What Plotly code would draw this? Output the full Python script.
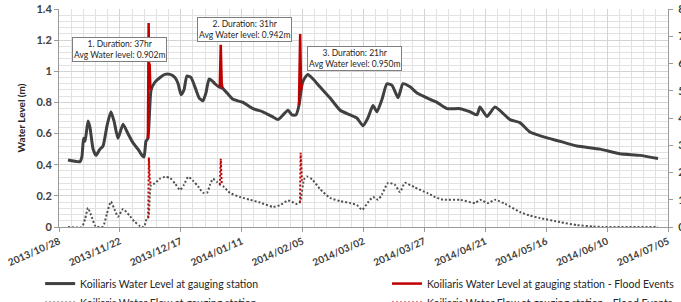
import pandas as pd
import plotly.graph_objects as go

START = pd.Timestamp("2013-10-28")

# Water level (m), days since 2013-10-28
level_days = [3.7, 8.6, 9.4, 10.1, 10.7, 11.9, 12.7, 14.0, 15.2, 16.8, 18.1, 19.7, 21.3, 22.6, 24.2,
              26.3, 28.3, 30.4, 32.4, 34.1, 34.9, 35.7, 36.5, 37.8, 39.4, 41.5, 43.5, 45.6, 47.6,
              48.9, 50.1, 51.3, 52.5, 54.2, 55.8, 57.5, 59.1, 60.3, 61.6, 62.8, 64.0, 65.7, 67.3,
              69.0, 71.4, 75.5, 79.6, 83.7, 87.4, 89.9, 92.0, 94.0, 95.6, 97.3, 98.5, 99.8, 101.0,
              102.2, 104.3, 107.1, 111.2, 115.4, 119.5, 122.3, 124.8, 126.8, 128.9, 130.5, 132.6,
              134.6, 136.7, 139.2, 141.2, 144.1, 147.0, 152.3, 155.2, 159.3, 164.6, 168.7, 171.6,
              172.8, 175.7, 179.0, 185.1, 189.2, 193.3, 198.7, 205.7, 212.6, 222.1, 230.3, 238.5, 245.9]
level_vals = [0.43, 0.42, 0.45, 0.57, 0.55, 0.68, 0.64, 0.50, 0.46, 0.50, 0.52, 0.65, 0.74, 0.68, 0.57,
              0.66, 0.60, 0.54, 0.50, 0.46, 0.45, 0.55, 0.57, 0.88, 0.93, 0.96, 0.98, 0.98, 0.96,
              0.92, 0.85, 0.88, 0.97, 0.96, 0.90, 0.83, 0.81, 0.86, 0.95, 0.94, 0.92, 0.90, 0.89,
              0.86, 0.82, 0.80, 0.76, 0.74, 0.71, 0.69, 0.72, 0.75, 0.72, 0.72, 0.78, 0.92, 0.96,
              0.98, 0.95, 0.90, 0.83, 0.75, 0.72, 0.70, 0.65, 0.70, 0.78, 0.74, 0.82,
              0.92, 0.91, 0.83, 0.92, 0.90, 0.86, 0.82, 0.80, 0.76, 0.76, 0.74, 0.72,
              0.77, 0.71, 0.77, 0.69, 0.67, 0.61, 0.58, 0.55, 0.52, 0.50, 0.47, 0.46, 0.44]

# Water flow (m3/s), days since 2013-10-28
flow_days = [3.7, 9.4, 10.7, 11.9, 13.1, 14.8, 15.6, 18.1, 19.7, 21.3, 23.0, 24.2, 26.3, 29.1, 31.2,
             33.3, 34.9, 36.1, 36.7, 37.8, 39.4, 41.5, 43.5, 45.6, 47.6, 49.7, 51.3, 53.0, 55.0,
             57.1, 59.1, 60.8, 62.0, 63.2, 64.9, 66.1, 67.3, 70.2, 74.3, 78.4, 82.5, 87.8, 90.7,
             93.6, 94.8, 97.7, 98.9, 100.6, 101.8, 103.9, 107.1, 111.2, 115.4, 119.5, 122.3, 124.4,
             126.8, 128.9, 131.0, 132.6, 135.1, 137.9, 140.0, 142.0, 146.1, 151.1, 154.4, 157.6,
             164.6, 170.8, 172.8, 176.1, 179.0, 183.1, 189.2, 193.3, 197.4, 205.7, 212.6, 219.2,
             223.3, 245.9]
flow_vals = [0, 0, 0.3, 0.7, 0.45, 0.05, 0, 0.02, 0.5, 0.93, 0.6, 0.38, 0.66, 0.4, 0.18,
             0.03, 0, 0.33, 0.35, 1.55, 1.6, 1.78, 1.84, 1.8, 1.6, 1.36, 1.55, 1.84, 1.7,
             1.49, 1.26, 1.26, 1.55, 1.77, 1.65, 1.55, 1.5, 1.25, 1.1, 1.0, 0.9, 0.74, 0.8,
             0.96, 0.96, 0.84, 0.9, 1.75, 1.85, 1.75, 1.4, 1.07, 0.95, 0.88, 0.8, 0.63,
             0.9, 1.1, 1.0, 1.2, 1.62, 1.55, 1.28, 1.62, 1.45, 1.25, 1.1, 1.0,
             1.0, 0.88, 1.0, 0.88, 1.0, 0.85, 0.55, 0.42, 0.33, 0.18, 0.07, 0.02,
             0, 0]

# Flood events (None separates events)
flood_level_days = [36.5, 36.8, 37.0, 37.2, 37.5, 37.8, None,
                    66.0, 66.4, 66.8, 67.2, None,
                    98.5, 99.0, 99.4, 99.8]
flood_level_vals = [0.57, 1.31, 0.95, 1.05, 0.90, 0.88, None,
                    0.90, 1.17, 0.92, 0.89, None,
                    0.78, 1.24, 0.88, 0.92]
flood_flow_days = [36.6, 36.9, 37.3, 37.8, None,
                   66.0, 66.4, 66.8, None,
                   98.9, 99.2, 99.7]
flood_flow_vals = [0.35, 2.55, 1.7, 1.55, None,
                   1.55, 2.5, 1.6, None,
                   0.9, 2.72, 1.7]

tick_dates = ["2013-10-28", "2013-11-22", "2013-12-17", "2014-01-11", "2014-02-05", "2014-03-02",
              "2014-03-27", "2014-04-21", "2014-05-16", "2014-06-10", "2014-07-05"]
tick_labels = ["2013/10/28", "2013/11/22", "2013/12/17", "2014/01/11", "2014/02/05", "2014/03/02",
               "2014/03/27", "2014/04/21", "2014/05/16", "2014/06/10", "2014/07/05"]

event_texts = [
    "1. Duration: 37hr<br>Avg Water level: 0.902m",
    "2. Duration: 31hr<br>Avg Water level: 0.942m",
    "3. Duration: 21hr<br>Avg Water level: 0.950m",
]


def to_dates(days):
    return [None if d is None else START + pd.Timedelta(days=d) for d in days]


FONT = "Lato"
fig = go.Figure()
fig.add_trace(go.Scatter(x=to_dates(level_days), y=level_vals, mode="lines",
                         name="Koiliaris Water Level at gauging station",
                         line=dict(color="#404040", width=3, shape="spline", smoothing=0.5),
                         legend="legend"))
fig.add_trace(go.Scatter(x=to_dates(flow_days), y=flow_vals, mode="lines", yaxis="y2",
                         name="Koiliaris Water Flow at gauging station",
                         line=dict(color="#505050", width=2, dash="2px,2px", shape="spline", smoothing=0.5),
                         legend="legend"))
fig.add_trace(go.Scatter(x=to_dates(flood_level_days), y=flood_level_vals, mode="lines",
                         name="Koiliaris Water Level at gauging station - Flood Events",
                         line=dict(color="#c00000", width=2.5),
                         legend="legend2"))
fig.add_trace(go.Scatter(x=to_dates(flood_flow_days), y=flood_flow_vals, mode="lines", yaxis="y2",
                         name="Koiliaris Water Flow at gauging station - Flood Events",
                         line=dict(color="#c00000", width=2, dash="2px,2px"),
                         legend="legend2"))

ann_pos = [(0.100, 0.812), (0.304, 0.904), (0.486, 0.775)]
for text, (ax, ay) in zip(event_texts, ann_pos):
    fig.add_annotation(x=ax, y=ay, xref="paper", yref="paper", xanchor="center", yanchor="middle",
                       text=text, showarrow=False,
                       font=dict(family=FONT, size=8.5, color="#262626"),
                       bgcolor="white", bordercolor="#7f7f7f", borderwidth=1, borderpad=1)

grid_major = "#d4d4d4"
grid_minor = "#e2e2e2"
axis_col = "#9a9a9a"
legend_common = dict(orientation="v", yanchor="top", y=-0.193, xanchor="left",
                     itemwidth=30, font=dict(family=FONT, size=10.5, color="#262626"),
                     bgcolor="rgba(0,0,0,0)", borderwidth=0, tracegroupgap=0)
fig.update_layout(
    width=681, height=302,
    margin=dict(l=59, r=13, t=9, b=75, autoexpand=False),
    paper_bgcolor="white", plot_bgcolor="white",
    font=dict(family=FONT, size=10, color="#262626"),
    xaxis=dict(range=[START, pd.Timestamp("2014-07-05")], tickvals=tick_dates, ticktext=tick_labels,
               tickangle=-24, tickfont=dict(family=FONT, size=10, weight="bold", color="#404040"),
               showgrid=True, gridcolor=grid_major, gridwidth=1,
               minor=dict(dtick=5 * 86400000, tick0="2013-10-28", showgrid=True, gridcolor=grid_minor),
               showline=True, linecolor=axis_col, ticks="outside", ticklen=4, tickcolor=axis_col,
               zeroline=False),
    yaxis=dict(range=[0, 1.4], dtick=0.2, showgrid=True, gridcolor=grid_major,
               minor=dict(dtick=0.04, showgrid=True, gridcolor=grid_minor),
               tickfont=dict(family=FONT, size=11, weight="bold", color="#404040"),
               title=dict(text="Water Level (m)", font=dict(family=FONT, size=10, weight="bold", color="#262626"),
                          standoff=8),
               showline=True, linecolor=axis_col, ticks="outside", ticklen=4, tickcolor=axis_col,
               zeroline=False),
    yaxis2=dict(range=[0, 8], dtick=1, overlaying="y", side="right", showgrid=False,
                tickfont=dict(family=FONT, size=11, weight="bold", color="#404040"),
                showline=True, linecolor=axis_col, ticks="outside", ticklen=4, tickcolor=axis_col,
                ticklabelstandoff=3, zeroline=False),
    legend=dict(x=-0.031, **legend_common),
    legend2=dict(x=0.5386, **legend_common),
    showlegend=True,
)

fig.write_html("out.html")
